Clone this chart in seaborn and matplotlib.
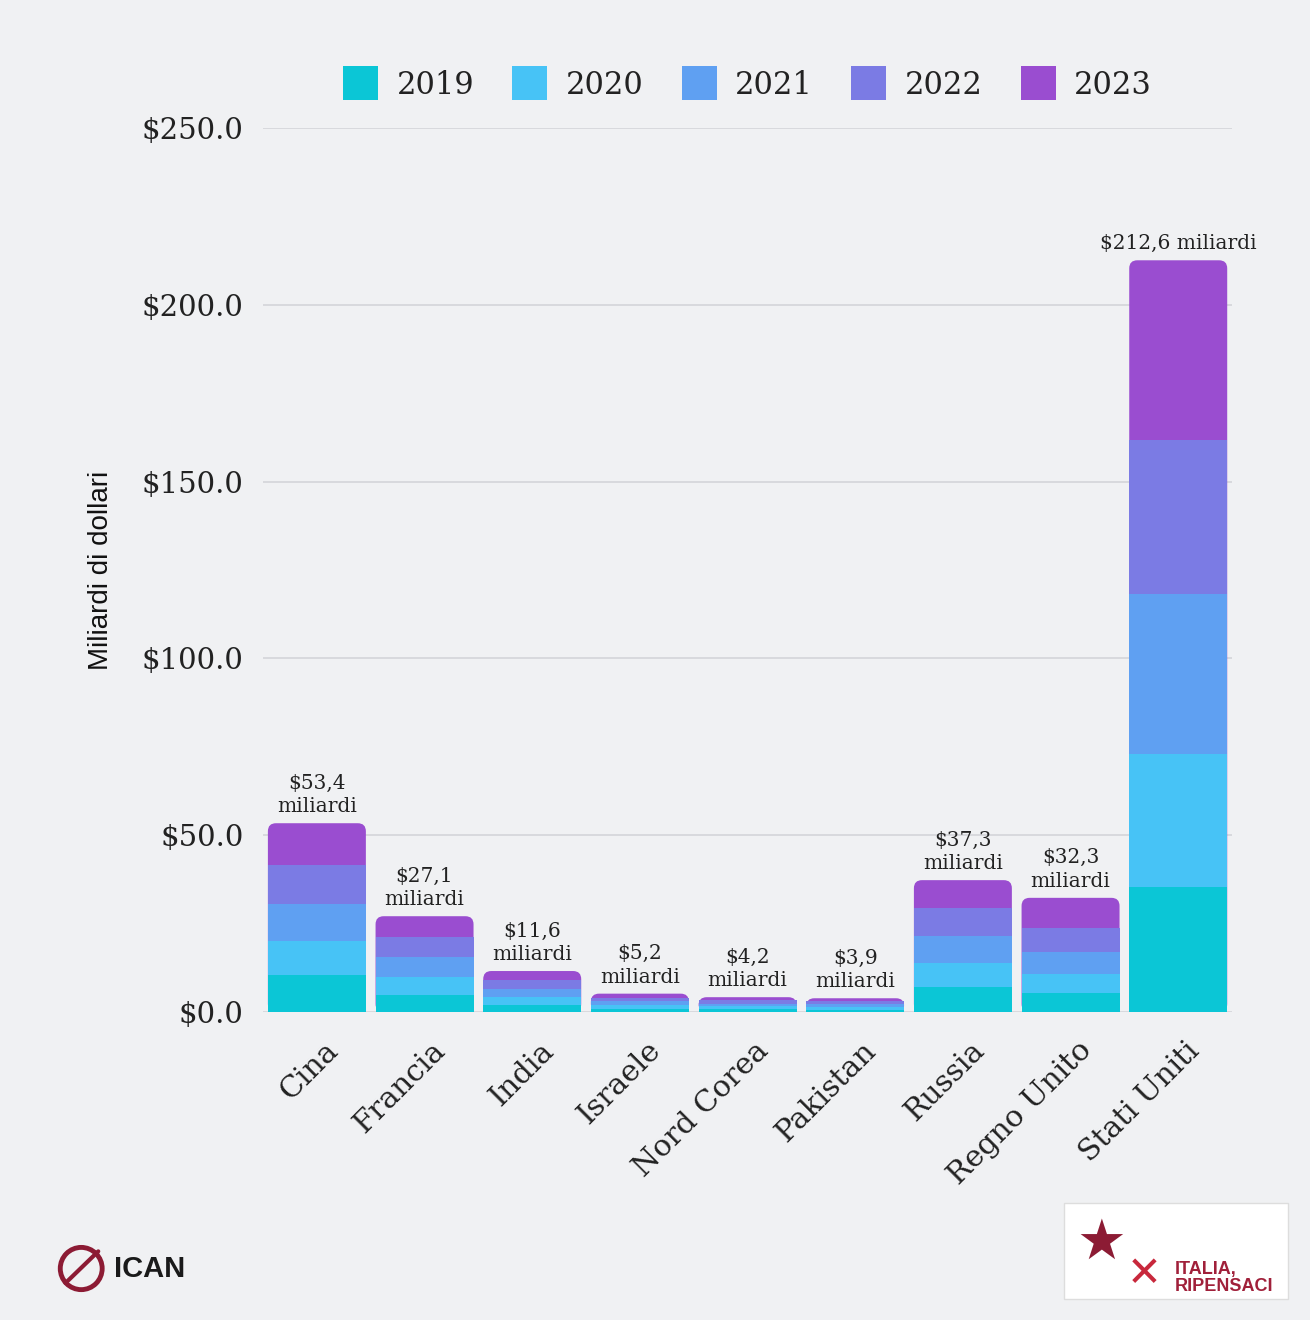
import numpy as np
import pandas as pd
import matplotlib
matplotlib.use("Agg")
import matplotlib.pyplot as plt
import matplotlib.patches as mpatches
import matplotlib.transforms as mtransforms
import seaborn as sns

# ---- data ----
countries = ["Cina", "Francia", "India", "Israele", "Nord Corea", "Pakistan",
             "Russia", "Regno Unito", "Stati Uniti"]
years = ["2019", "2020", "2021", "2022", "2023"]
v2019 = [10.4, 4.8, 2.1, 1.0, 0.8, 0.7, 7.0, 5.3, 35.4]
v2020 = [9.6, 5.2, 2.2, 1.0, 0.8, 0.8, 6.8, 5.6, 37.6]
v2021 = [10.5, 5.5, 2.3, 1.0, 0.8, 0.8, 7.7, 6.0, 45.2]
v2022 = [11.2, 5.8, 2.4, 1.1, 0.9, 0.8, 7.8, 6.8, 43.5]
v2023 = [11.7, 5.8, 2.6, 1.1, 0.9, 0.8, 8.0, 8.6, 50.9]
yticks = [0, 50, 100, 150, 200, 250]
colors = ["#0bc6d6", "#47c3f6", "#5fa0f2", "#7b7be4", "#9a4dd0"]

series = [v2019, v2020, v2021, v2022, v2023]
cum = np.cumsum(np.array(series), axis=0)
totals = cum[-1]

BG = "#f0f1f3"
sns.set_theme(style="white")
plt.rcParams["font.family"] = ["DejaVu Serif"]

fig = plt.figure(figsize=(13.1, 13.2), dpi=100, facecolor=BG)
ax = fig.add_axes([0.2008, 0.2333, 0.7397, 0.6697])
ax.set_facecolor(BG)

# stacked bars: draw cumulative from top to bottom
for i in range(len(years) - 1, -1, -1):
    df = pd.DataFrame({"country": countries, "value": cum[i]})
    sns.barplot(data=df, x="country", y="value", color=colors[i],
                width=0.91, saturation=1, ax=ax, zorder=3, linewidth=0)

ax.set_xlim(-0.5, len(countries) - 0.5)
ax.set_ylim(0, 250)

# round the top corners of the full (topmost) bars
bbox = ax.get_position()
ax_w_px = bbox.width * fig.get_figwidth() * fig.dpi
ax_h_px = bbox.height * fig.get_figheight() * fig.dpi
xu_per_px = len(countries) / ax_w_px
yu_per_px = 250 / ax_h_px
aspect = yu_per_px / xu_per_px
top_patches = list(ax.patches[:len(countries)])
for p in top_patches:
    x0, y0 = p.get_x(), p.get_y()
    w, h = p.get_width(), p.get_height()
    fb = mpatches.FancyBboxPatch((x0, y0), w, h,
                                 boxstyle="round,pad=0,rounding_size=0.075",
                                 mutation_aspect=aspect,
                                 facecolor=p.get_facecolor(), edgecolor="none",
                                 zorder=2.9)
    p.remove()
    ax.add_patch(fb)

ax.set_yticks(yticks)
ax.set_yticklabels([f"${t:.1f}" for t in yticks], fontsize=21, color="#222222")
ax.yaxis.grid(True, color="#d4d5d9", linewidth=1.2, zorder=0)
ax.set_axisbelow(True)
for s in ax.spines.values():
    s.set_visible(False)
ax.tick_params(axis="both", length=0)
ax.tick_params(axis="y", pad=14)

ax.set_xlabel("")
ax.set_ylabel("Miliardi di dollari", fontsize=20, family="Liberation Sans",
              color="#111111", labelpad=20)

labels = ax.set_xticklabels(countries, rotation=45, ha="right",
                            rotation_mode="anchor", fontsize=21.5, color="#222222")
offset = mtransforms.ScaledTranslation(5 / 72, -14 / 72, fig.dpi_scale_trans)
for lab in labels:
    lab.set_transform(lab.get_transform() + offset)

# totals annotations
for i, t in enumerate(totals):
    txt = f"${t:.1f}".replace(".", ",")
    if i == len(totals) - 1:
        s = txt + " miliardi"
    else:
        s = txt + "\nmiliardi"
    ax.annotate(s, (i, t), xytext=(0, 5), textcoords="offset points",
                ha="center", va="bottom", fontsize=14.5, color="#222222",
                linespacing=1.3, zorder=5)

# legend
handles = [mpatches.Patch(facecolor=c, edgecolor="none") for c in colors]
ax.legend(handles, years, loc="lower center", bbox_to_anchor=(0.5, 1.0),
          ncol=5, frameon=False, fontsize=22, handlelength=1.15,
          handleheight=1.35, handletextpad=0.6, columnspacing=1.25,
          labelcolor="#222222")

# ICAN logo (approximation)
circ = mpatches.Circle((0.062, 0.039), 0.016, transform=fig.transFigure,
                       facecolor="none", edgecolor="#8c1b34", linewidth=3.5)
fig.patches.append(circ)
fig.lines.append(plt.Line2D([0.05, 0.075], [0.028, 0.052], transform=fig.transFigure,
                            color="#8c1b34", linewidth=3))
fig.text(0.087, 0.039, "ICAN", fontsize=21, fontweight="bold",
         family="Liberation Sans", color="#1a1a1a", va="center", ha="left")

# Italia, ripensaci logo (approximation)
box = mpatches.Rectangle((0.812, 0.016), 0.171, 0.073, transform=fig.transFigure,
                         facecolor="white", edgecolor="#dddddd", linewidth=1)
fig.patches.append(box)
fig.text(0.822, 0.058, "★", fontsize=40, color="#8c1b34", va="center",
         ha="left", family="DejaVu Sans")
fig.text(0.86, 0.035, "✕", fontsize=30, color="#c8283c", va="center",
         ha="left", family="DejaVu Sans")
fig.text(0.897, 0.032, "ITALIA,\nRIPENSACI", fontsize=13, fontweight="bold",
         family="Liberation Sans", color="#a0203a", va="center", ha="left",
         linespacing=1.0)

fig.savefig("out.png", dpi=100, facecolor=BG)
